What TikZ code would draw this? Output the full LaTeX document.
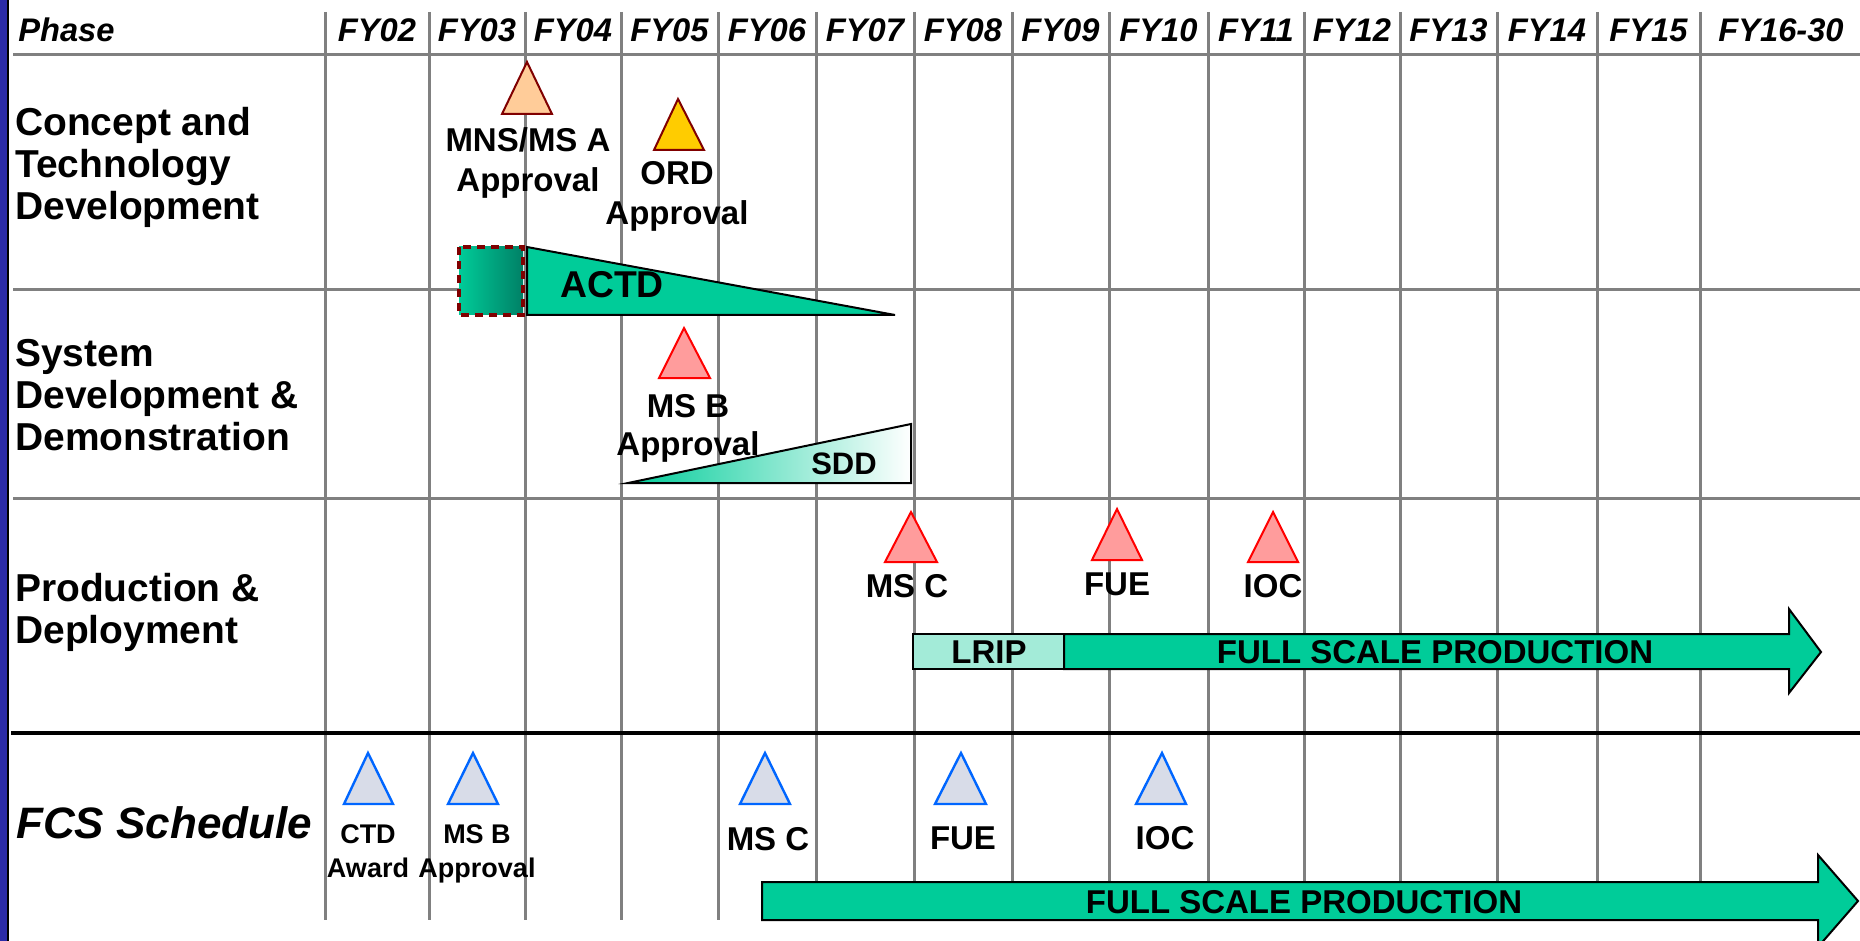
\documentclass[tikz,border=0pt]{standalone}
\usepackage{fontspec}
\setmainfont{Liberation Sans}
\definecolor{gridgray}{HTML}{808080}
\definecolor{barblue}{HTML}{2B2BA8}
\definecolor{msgreen}{HTML}{00CC99}
\definecolor{darkgreen}{HTML}{008066}
\definecolor{lripgreen}{HTML}{A3EBD8}
\definecolor{darkred}{HTML}{800000}
\definecolor{peach}{HTML}{FFCC99}
\definecolor{gold}{HTML}{FFCC00}
\definecolor{pink}{HTML}{FF9C9C}
\definecolor{fcsfill}{HTML}{D8DCE8}
\definecolor{fcsblue}{HTML}{0066FF}
\begin{document}
\begin{tikzpicture}[x=0.75pt,y=-0.75pt,
  gridline/.style={draw=gridgray,line width=2.25pt},
  hdr/.style={inner sep=0pt,anchor=base,font=\fontsize{24.5pt}{28pt}\selectfont\bfseries\itshape},
  rowlbl/.style={inner sep=0pt,anchor=base west,align=left,font=\fontsize{29.2pt}{31.5pt}\selectfont\bfseries},
  mslbl/.style={inner sep=0pt,anchor=base,align=center,font=\fontsize{24.75pt}{30pt}\selectfont\bfseries},
  fcssmall/.style={inner sep=0pt,anchor=base,align=center,font=\fontsize{20.25pt}{25.5pt}\selectfont\bfseries},
  bartxt/.style={inner sep=0pt,anchor=base,font=\fontsize{24.75pt}{28pt}\selectfont\bfseries},
  peachtri/.style={fill=peach,draw=darkred,line width=1.5pt},
  goldtri/.style={fill=gold,draw=darkred,line width=1.5pt},
  pinktri/.style={fill=pink,draw=red,line width=1.5pt},
  fcstri/.style={fill=fcsfill,draw=fcsblue,line width=1.8pt},
  outline/.style={draw=black,line width=1.5pt,line join=miter}]
\useasboundingbox (0,0) rectangle (1860,941);
\clip (0,0) rectangle (1860,941);
% left bar
\fill[barblue] (0,0) rectangle (7,941);
\fill[black] (7,0) rectangle (9,941);
% grid
\foreach \gx in {325,429,525,621,718,816,914,1012,1109,1208,1304,1400,1497,1597,1700}
  \draw[gridline] (\gx,12) -- (\gx,920);
\foreach \gy in {55,290,498}
  \draw[gridline] (13,\gy) -- (1860,\gy);
\draw[black,line width=3pt] (11,733) -- (1860,733);
% headers
\node[hdr,anchor=base west] (phase) at (18,42) {Phase};
\foreach \cx/\lab [count=\i] in {377/FY02,477/FY03,573/FY04,669.5/FY05,767/FY06,865/FY07,963/FY08,1060.5/FY09,1158.5/FY10,1256/FY11,1352/FY12,1448.5/FY13,1547/FY14,1648.5/FY15,1781/FY16-30}
  \node[hdr] (fy\i) at (\cx,42) {\lab};
% row labels (base = last line baseline)
\node[rowlbl] (ctd) at (15,220) {Concept and\\Technology\\Development};
\node[rowlbl] (sdd) at (15,450) {System\\Development \&\\Demonstration};
\node[rowlbl] (pd) at (15,643) {Production \&\\Deployment};
\node[inner sep=0pt,anchor=base west,font=\fontsize{33pt}{36pt}\selectfont\bfseries\itshape] (fcs) at (16,838) {FCS Schedule};
% ACTD
\shade[left color=msgreen,right color=darkgreen] (459,247) rectangle (523,315);
\draw[darkred,line width=2.4pt,dash pattern=on 6pt off 4.5pt] (459,247) rectangle (523,315);
\draw[outline,fill=msgreen] (527,247) -- (527,315) -- (895,315) -- cycle;
\node[inner sep=0pt,anchor=base,font=\fontsize{28pt}{32pt}\selectfont\bfseries] (actd) at (612,298) {ACTD};
% SDD
\shade[left color=msgreen,right color=white] (628,483) -- (911,483) -- (911,424) -- cycle;
\draw[outline] (628,483) -- (911,483) -- (911,424) -- cycle;
\node[inner sep=0pt,anchor=base,font=\fontsize{23.25pt}{28pt}\selectfont\bfseries] (sddl) at (844,474) {SDD};
% production arrow
\draw[outline,fill=lripgreen] (913,634) rectangle (1064,669);
\draw[outline,fill=msgreen] (1064,634) -- (1789,634) -- (1789,609) -- (1821,652) -- (1789,693) -- (1789,669) -- (1064,669) -- cycle;
\node[bartxt] (lrip) at (989,663) {LRIP};
\node[bartxt] (fsp1) at (1435,663) {FULL SCALE PRODUCTION};
% FCS arrow
\draw[outline,fill=msgreen] (762,882) -- (1818,882) -- (1818,855) -- (1858,901) -- (1818,947) -- (1818,920) -- (762,920) -- cycle;
\node[bartxt] (fsp2) at (1304,913) {FULL SCALE PRODUCTION};
% concept milestones
\draw[peachtri] (527,62) -- (552,114) -- (502,114) -- cycle;
\node[mslbl] (msa) at (528,192) {MNS/MS A\\Approval};
\draw[goldtri] (678,99) -- (704,150) -- (654,150) -- cycle;
\node[mslbl] (ord) at (677,225) {ORD\\Approval};
% system milestones
\draw[pinktri] (684,328) -- (710,378) -- (659,378) -- cycle;
\node[mslbl,font=\fontsize{24.75pt}{28.5pt}\selectfont\bfseries] (msb) at (688,455) {MS B\\Approval};
% production milestones
\draw[pinktri] (911,512) -- (937,562) -- (885,562) -- cycle;
\node[mslbl] (msc) at (907,597) {MS C};
\draw[pinktri] (1117,509) -- (1142,560) -- (1092,560) -- cycle;
\node[mslbl] (fue) at (1117,595) {FUE};
\draw[pinktri] (1273,512) -- (1298,562) -- (1248,562) -- cycle;
\node[mslbl] (ioc) at (1273,597) {IOC};
% FCS milestones
\draw[fcstri] (368,753) -- (393,804) -- (344,804) -- cycle;
\node[fcssmall] (fctd) at (368,877) {CTD\\Award};
\draw[fcstri] (473,753) -- (498,804) -- (448,804) -- cycle;
\node[fcssmall] (fmsb) at (477,877) {MS B\\Approval};
\draw[fcstri] (765,753) -- (790,804) -- (740,804) -- cycle;
\node[mslbl] (fmsc) at (768,850) {MS C};
\draw[fcstri] (961,753) -- (986,804) -- (935,804) -- cycle;
\node[mslbl] (ffue) at (963,849) {FUE};
\draw[fcstri] (1162,753) -- (1186,804) -- (1136,804) -- cycle;
\node[mslbl] (fioc) at (1165,849) {IOC};
\end{tikzpicture}
\end{document}
